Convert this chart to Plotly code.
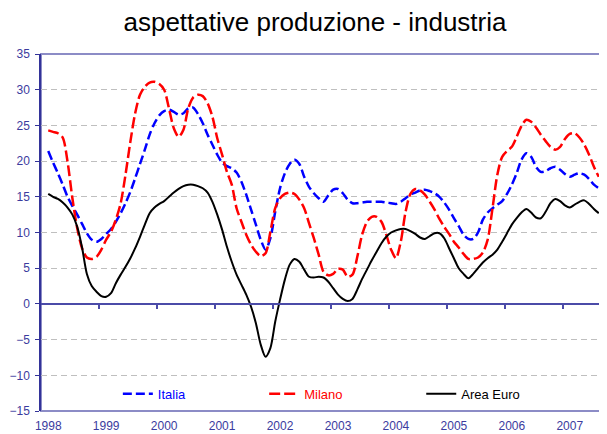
import plotly.graph_objects as go

years = ["1998", "1999", "2000", "2001", "2002", "2003", "2004", "2005", "2006", "2007"]
months = list(range(1, 116))

italia = [21.4, 19.8, 18.3, 16.7, 15.0, 13.7, 12.5, 11.2, 9.9, 9.0, 8.7, 9.1, 9.8, 10.5, 11.5,
          12.7, 14.1, 15.7, 17.6, 19.6, 21.6, 23.7, 25.3, 26.4, 27.0, 27.2, 26.9, 26.5, 26.7, 27.4,
          27.5, 26.6, 25.3, 23.7, 22.3, 20.9, 19.8, 19.3, 19.0, 18.4, 17.1, 15.3, 13.2, 11.1, 9.0,
          7.6, 9.2, 12.9, 16.2, 18.3, 19.6, 20.2, 19.6, 17.8, 16.4, 15.5, 14.8, 14.3, 15.2, 16.0,
          16.1, 15.5, 14.6, 14.1, 14.1, 14.2, 14.3, 14.3, 14.3, 14.3, 14.2, 14.1, 14.0, 14.3, 14.8,
          15.3, 15.6, 15.9, 16.0, 15.8, 15.5, 15.0, 14.2, 13.2, 12.0, 10.9, 9.7, 9.1, 9.1, 10.0,
          11.8, 12.8, 13.4, 13.9, 14.4, 15.4, 16.7, 18.3, 20.2, 21.1, 20.6, 19.2, 18.5, 18.6, 19.0,
          19.2, 18.8, 18.2, 17.8, 18.1, 18.3, 18.1, 17.5, 16.7, 16.2]

milano = [24.3, 24.1, 23.9, 23.3, 19.9, 14.8, 10.6, 7.8, 6.5, 6.3, 6.6, 7.6, 9.0, 10.1, 11.8,
          14.1, 18.1, 22.7, 26.7, 29.3, 30.4, 31.0, 31.1, 30.8, 30.0, 27.4, 24.6, 23.4, 24.4, 27.4,
          28.9, 29.3, 29.1, 28.1, 26.2, 23.2, 20.9, 18.5, 16.7, 13.4, 11.5, 9.7, 8.3, 7.3, 6.7,
          7.1, 10.1, 13.4, 14.8, 15.4, 15.6, 15.4, 14.6, 13.4, 11.3, 9.2, 6.9, 4.5, 4.0, 4.2,
          4.9, 4.8, 3.8, 4.1, 6.6, 9.7, 11.5, 12.2, 12.2, 11.5, 9.7, 7.6, 6.4, 8.7, 12.9,
          15.4, 16.1, 15.9, 15.3, 14.3, 13.2, 11.9, 10.8, 9.8, 8.7, 7.9, 7.0, 6.3, 6.3, 6.5,
          7.2, 9.0, 13.4, 18.1, 20.6, 21.4, 22.0, 23.4, 24.9, 25.8, 25.5, 24.7, 23.7, 22.8, 22.0,
          21.6, 22.0, 23.1, 23.8, 23.9, 23.3, 22.3, 20.9, 19.2, 17.8]

area_euro = [15.4, 15.0, 14.7, 14.2, 13.5, 12.5, 10.8, 7.9, 4.2, 2.5, 1.7, 1.1, 1.0, 1.5, 2.9,
             4.1, 5.2, 6.4, 7.8, 9.4, 11.1, 12.7, 13.5, 14.0, 14.4, 15.0, 15.6, 16.1, 16.5, 16.7,
             16.7, 16.5, 16.2, 15.6, 14.3, 12.5, 10.4, 8.0, 5.9, 4.1, 2.7, 1.3, -0.4, -2.7, -5.7,
             -7.4, -6.2, -2.5, 0.6, 3.4, 5.5, 6.3, 5.9, 4.8, 3.8, 3.7, 3.8, 3.7, 3.1, 2.2,
             1.3, 0.7, 0.4, 0.7, 2.0, 3.5, 4.8, 6.1, 7.3, 8.5, 9.4, 10.0, 10.3, 10.5, 10.5,
             10.2, 9.8, 9.3, 9.1, 9.5, 9.9, 9.9, 9.2, 7.8, 6.4, 5.0, 4.2, 3.6, 4.2, 5.0,
             5.8, 6.4, 6.9, 7.6, 8.7, 9.9, 11.1, 12.0, 12.8, 13.3, 12.8, 12.1, 12.0, 12.9, 14.1,
             14.7, 14.4, 13.8, 13.5, 13.9, 14.3, 14.5, 14.0, 13.3, 12.7]

year_label_pos = [1 + 12 * k for k in range(len(years))]
year_tick_pos = [11.5 + 12 * k for k in range(9)]

TEXT_NAVY = "#3B3B9E"
LINE_NAVY = "#4B4BA8"
FONT = "Arial, Liberation Sans, sans-serif"

fig = go.Figure()
fig.add_trace(go.Scatter(x=months, y=italia, mode="lines", legend="legend",
                         name='<span style="color:#0000FF">Italia</span>',
                         line=dict(color="#0000FF", width=2.5, dash="9px,4px", shape="spline", smoothing=0.8)))
fig.add_trace(go.Scatter(x=months, y=milano, mode="lines", legend="legend2",
                         name='<span style="color:#FF0000">Milano</span>',
                         line=dict(color="#FF0000", width=2.5, dash="11px,4px", shape="spline", smoothing=0.8)))
fig.add_trace(go.Scatter(x=months, y=area_euro, mode="lines", legend="legend3",
                         name="Area Euro",
                         line=dict(color="#000000", width=2, shape="spline", smoothing=0.8)))
fig.add_trace(go.Scatter(x=[], y=[], xaxis="x2", showlegend=False, hoverinfo="skip"))

leg_common = dict(orientation="h", yanchor="middle", y=0.048, xanchor="left",
                  bgcolor="rgba(0,0,0,0)", font=dict(family=FONT, size=13, color="#000000"),
                  itemwidth=30)

fig.update_layout(
    width=599, height=426,
    margin=dict(l=33, r=1, t=46, b=23, pad=0),
    showlegend=True,
    paper_bgcolor="white", plot_bgcolor="white",
    font=dict(family=FONT, color=TEXT_NAVY, size=12),
    title=dict(text="aspettative produzione - industria", x=307 / 599, xanchor="center",
               y=1 - 14 / 426, yanchor="middle", yref="container",
               font=dict(family=FONT, size=26, color="#000000")),
    xaxis=dict(range=[-0.5, 116.5], tickvals=year_label_pos, ticktext=years,
               showline=False, showgrid=False, zeroline=False, ticks="",
               ticklabelstandoff=6,
               tickfont=dict(family=FONT, size=12, color=TEXT_NAVY)),
    xaxis2=dict(overlaying="x", matches="x", anchor="free", position=0.3,
                showline=True, linecolor=LINE_NAVY, linewidth=1.5,
                ticks="outside", ticklen=4, tickwidth=1.5, tickcolor=LINE_NAVY,
                tickvals=year_tick_pos, showticklabels=False,
                showgrid=False, zeroline=False),
    yaxis=dict(range=[-15, 35], dtick=5, tick0=0, showgrid=True, gridcolor="#BFBFBF",
               griddash="6px,4px", gridwidth=1, zeroline=False,
               showline=True, linecolor="#333399", linewidth=1.5,
               ticks="outside", ticklen=4, tickcolor="#333399", tickwidth=1,
               ticklabelstandoff=3,
               tickfont=dict(family=FONT, size=12, color=TEXT_NAVY)),
    legend=dict(leg_common, x=0.136),
    legend2=dict(leg_common, x=0.395),
    legend3=dict(leg_common, x=0.673),
    shapes=[dict(type="rect", xref="paper", yref="paper", x0=0, y0=0, x1=1, y1=1,
                 line=dict(color="#8C8CC6", width=2), layer="below")],
)

fig.write_html("out.html")
